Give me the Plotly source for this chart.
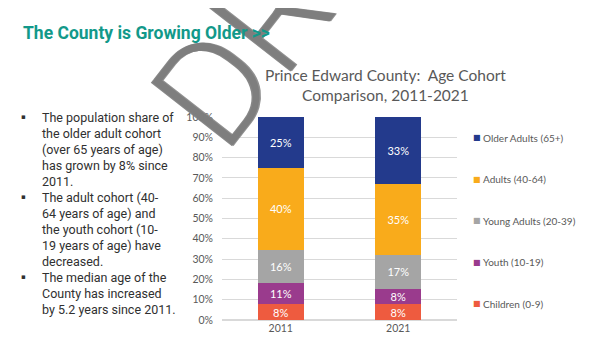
import plotly.graph_objects as go

# ---------------- data ----------------
years = ["2011", "2021"]
cohorts = ["Children (0-9)", "Youth (10-19)", "Young Adults (20-39)", "Adults (40-64)", "Older Adults (65+)"]
children = [7.7, 7.8]
youth = [10.6, 7.7]
young_adults = [16.3, 16.7]
adults = [40.4, 34.6]
older_adults = [25.0, 33.2]
series_values = [children, youth, young_adults, adults, older_adults]
colors = ["#EE5B3F", "#9A3B8D", "#A5A5A5", "#F9AB1B", "#233A8C"]
y_tick_vals = [0, 10, 20, 30, 40, 50, 60, 70, 80, 90, 100]
y_tick_text = ["0%", "10%", "20%", "30%", "40%", "50%", "60%", "70%", "80%", "90%", "100%"]

heading = "The County is Growing Older >>"
chart_title = "Prince Edward County:  Age Cohort<br>Comparison, 2011-2021"
bullet_lines = [
    "The population share of", "the older adult cohort", "(over 65 years of age)",
    "has grown by 8% since", "2011.",
    "The adult cohort (40-", "64 years of age) and", "the youth cohort (10-",
    "19 years of age) have", "decreased.",
    "The median age of the", "County has increased", "by 5.2 years since 2011.",
]
bullet_starts = [0, 5, 10]

# ---------------- layout helpers ----------------
OFF = 8  # page body margin
W, H = 600 - OFF, 359 - OFF
L, R, T, B = 222 - OFF, 457 - OFF, 117 - OFF, 320 - OFF


def px(x):
    return (x - OFF - L) / (R - L)


def py(y):
    return (B - (y - OFF)) / (B - T)


CHART_FONT = "Lato"
fig = go.Figure()
for name, vals, col in zip(cohorts, series_values, colors):
    fig.add_trace(go.Bar(
        x=years, y=vals, name=name, marker_color=col, marker_line_width=0,
        texttemplate="%{y:.0f}%", textposition="inside", insidetextanchor="middle",
        textangle=0, constraintext="none",
        textfont=dict(color="white", size=11, family=CHART_FONT),
        showlegend=False,
    ))

ann = []
# watermark
ann.append(dict(text="DRAFT", xref="paper", yref="paper", x=px(322), y=py(-50),
                xanchor="center", yanchor="middle",
                showarrow=False, textangle=-52,
                font=dict(size=145, family="Roboto", weight=300, color="rgba(125,125,125,0.92)",
                          shadow="1px 1px 0 rgba(125,125,125,0.92)")))
# heading
ann.append(dict(text="<b>" + heading + "</b>", xref="paper", yref="paper", x=px(21), y=py(33),
                xanchor="left", yanchor="middle", showarrow=False,
                font=dict(size=17.5, family="Roboto", color="#12998A")))
# chart title
ann.append(dict(text=chart_title, xref="paper", yref="paper", x=px(385), y=py(85),
                xanchor="center", yanchor="middle", showarrow=False,
                font=dict(size=15.5, family=CHART_FONT, color="#595959")))
# bullets
for i, line in enumerate(bullet_lines):
    yy = 117 + 16 * i
    ann.append(dict(text=line, xref="paper", yref="paper", x=px(40), y=py(yy),
                    xanchor="left", yanchor="middle", showarrow=False,
                    font=dict(size=12.5, family="Roboto", color="#303030")))
    if i in bullet_starts:
        ann.append(dict(text="▪", xref="paper", yref="paper", x=px(23), y=py(yy),
                        xanchor="center", yanchor="middle", showarrow=False,
                        font=dict(size=7, family="DejaVu Sans", color="#303030")))
# legend (top = last series)
for k, (name, col) in enumerate(zip(cohorts[::-1], colors[::-1])):
    yy = 137.5 + 41.6 * k
    ann.append(dict(text="■", xref="paper", yref="paper", x=px(476.5), y=py(yy),
                    xanchor="center", yanchor="middle", showarrow=False,
                    font=dict(size=8, family="DejaVu Sans", color=col)))
    ann.append(dict(text=name, xref="paper", yref="paper", x=px(481), y=py(yy),
                    xanchor="left", yanchor="middle", showarrow=False,
                    font=dict(size=10, family=CHART_FONT, color="#595959")))

fig.update_layout(
    width=W, height=H, barmode="stack", bargap=0.61,
    margin=dict(l=L, r=W - R, t=T, b=H - B, pad=0),
    paper_bgcolor="white", plot_bgcolor="white",
    annotations=ann,
    xaxis=dict(showgrid=False, showline=False, ticks="", range=[-0.5, 1.5],
               tickfont=dict(size=10.5, family=CHART_FONT, color="#595959")),
    yaxis=dict(range=[0, 100], tickmode="array", tickvals=y_tick_vals, ticktext=y_tick_text,
               showgrid=True,
               gridcolor="#D9D9D9", gridwidth=1, zeroline=True, zerolinecolor="#D9D9D9",
               ticks="", ticklabelstandoff=8,
               tickfont=dict(size=10.5, family=CHART_FONT, color="#595959")),
)
fig.write_html("out.html")
